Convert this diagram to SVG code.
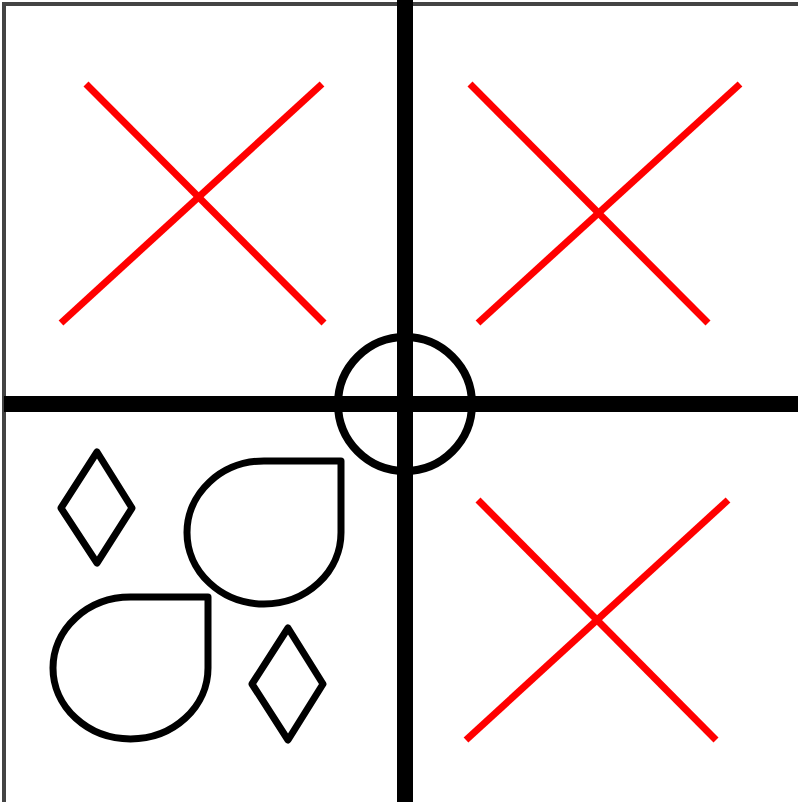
<svg xmlns="http://www.w3.org/2000/svg" width="798" height="802" viewBox="0 0 798 802">
<style>
.x{stroke:#ff0000;stroke-width:7;fill:none}
.s{stroke:#000;stroke-width:7;fill:none;stroke-linejoin:round}
</style>
<rect x="0" y="0" width="798" height="802" fill="#fff"/>
<rect x="4" y="4" width="800" height="800" fill="none" stroke="#444" stroke-width="4"/>
<g id="connectors">
<line x1="405" y1="0" x2="405" y2="802" stroke="#000" stroke-width="16"/>
<line x1="4" y1="404" x2="798" y2="404" stroke="#000" stroke-width="16"/>
<circle cx="405" cy="404" r="67" fill="none" stroke="#000" stroke-width="8"/>
</g>
<g id="x1"><line class="x" x1="86" y1="84" x2="324" y2="323"/><line class="x" x1="322" y1="84" x2="61" y2="323"/></g>
<g id="x2"><line class="x" x1="470" y1="84" x2="708" y2="323"/><line class="x" x1="740" y1="84" x2="478" y2="323"/></g>
<g id="x3"><line class="x" x1="478" y1="500" x2="716" y2="740"/><line class="x" x1="728" y1="500" x2="466" y2="740"/></g>
<g id="diamond1"><polygon class="s" points="97,452 132,508 97,563 61,508"/></g>
<g id="diamond2"><polygon class="s" points="288,628 323,684 288,740 252,684"/></g>
<g id="drop1"><path class="s" d="M264,461 H341 V532.5 A77,71.5 0 1 1 264,461 Z"/></g>
<g id="drop2"><path class="s" d="M130.5,597 H208 V668 A77.5,71 0 1 1 130.5,597 Z"/></g>
</svg>
